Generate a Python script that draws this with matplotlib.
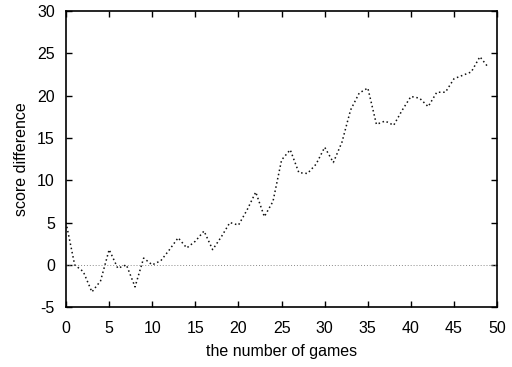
import numpy as np
import matplotlib
matplotlib.use("Agg")
from matplotlib import pyplot as plt

# score difference after each game
games = list(range(50))
score_diff = [5.0, 0.0, -0.8, -3.2, -1.9, 1.8, -0.4, 0.0, -2.6, 0.8,
              0.0, 0.5, 1.8, 3.2, 2.0, 2.8, 4.0, 1.8, 3.3, 5.0,
              4.7, 6.5, 8.6, 5.7, 7.5, 12.4, 13.6, 10.9, 10.8, 11.9,
              13.9, 12.1, 14.5, 18.3, 20.3, 20.9, 16.6, 17.0, 16.5, 18.3,
              19.9, 19.7, 18.7, 20.4, 20.4, 22.0, 22.4, 22.8, 24.6, 23.3]
zero_level = 0

x_ticks = list(range(0, 51, 5))
y_ticks = list(range(-5, 31, 5))

plt.rcParams['font.family'] = ['Liberation Sans', 'DejaVu Sans']
plt.rcParams['axes.unicode_minus'] = False

fig = plt.figure(figsize=(5.12, 3.67), dpi=100)
ax = fig.add_axes([0.129, 0.163, 0.842, 0.807])

# faint reference line at zero
ax.axhline(zero_level, color='#8a8a8a', lw=0.7, ls=(0, (1, 2)))
# the score difference curve
ax.plot(games, score_diff, color='#111111', lw=1.1, ls=(0, (1, 1.8)))

ax.set_xlim(0, 50)
ax.set_ylim(-5, 30)
ax.set_xticks(x_ticks)
ax.set_yticks(y_ticks)
ax.tick_params(direction='in', top=True, right=True, length=4, width=1,
               labelsize=11.5, color='black')
ax.tick_params(axis='x', pad=10)
ax.tick_params(axis='y', pad=8)
for s in ax.spines.values():
    s.set_linewidth(1.2)

ax.set_xlabel('the number of games', fontsize=11.5, labelpad=6)
ax.set_ylabel('score difference', fontsize=11.5, labelpad=6)

fig.savefig('out.png', dpi=100)
